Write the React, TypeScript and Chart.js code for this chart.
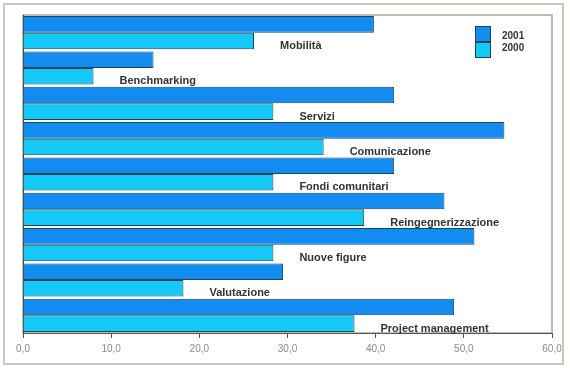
import React, { useEffect, useRef } from "react";
import { Chart, registerables } from "chart.js";

Chart.register(...registerables);

const categories = [
  "Mobilità",
  "Benchmarking",
  "Servizi",
  "Comunicazione",
  "Fondi comunitari",
  "Reingegnerizzazione",
  "Nuove figure",
  "Valutazione",
  "Project management",
];
const series2001 = [39.8, 14.8, 42.1, 54.6, 42.1, 47.8, 51.2, 29.5, 48.9];
const series2000 = [26.2, 8.0, 28.4, 34.1, 28.4, 38.7, 28.4, 18.2, 37.6];
const seriesNames = ["2001", "2000"];
const xTicks = [0, 10, 20, 30, 40, 50, 60];

const COLOR_2001 = "#128cf0";
const COLOR_2000 = "#14c8f8";
const BORDER = "#1a4654";

const framePlugin = {
  id: "framePlugin",
  beforeDraw(chart: any) {
    const { ctx, chartArea } = chart;
    ctx.save();
    ctx.fillStyle = "#ffffff";
    ctx.fillRect(0, 0, chart.width, chart.height);
    // outer frame
    ctx.strokeStyle = "#c8c8bc";
    ctx.lineWidth = 2;
    ctx.strokeRect(4, 4, 559, 360);
    // plot area frame
    ctx.strokeStyle = "#a8a89c";
    ctx.lineWidth = 1.5;
    ctx.strokeRect(chartArea.left, chartArea.top, chartArea.right - chartArea.left, chartArea.bottom - chartArea.top);
    ctx.restore();
  },
  afterDatasetsDraw(chart: any) {
    const { ctx, chartArea } = chart;
    const xs = chart.scales.x;
    const meta = chart.getDatasetMeta(1);
    ctx.save();
    ctx.font = "bold 11px 'Liberation Sans', Arial, sans-serif";
    ctx.fillStyle = "#333333";
    ctx.textBaseline = "middle";
    ctx.textAlign = "left";
    categories.forEach((name, i) => {
      const bar = meta.data[i];
      const x = xs.getPixelForValue(series2000[i]) + 26;
      const y = bar.y + 5;
      ctx.fillText(name, x, y);
    });
    // legend
    const lx = chartArea.right - 77;
    const ly = chartArea.top + 11;
    const sw = 16;
    const sh = 16;
    const colors = [COLOR_2001, COLOR_2000];
    colors.forEach((c, i) => {
      ctx.fillStyle = c;
      ctx.fillRect(lx, ly + i * sh, sw, sh);
      ctx.strokeStyle = BORDER;
      ctx.lineWidth = 1;
      ctx.strokeRect(lx + 0.5, ly + i * sh + 0.5, sw - 1, sh - 1);
    });
    ctx.font = "bold 10px 'Liberation Sans', Arial, sans-serif";
    ctx.fillStyle = "#333333";
    seriesNames.forEach((n, i) => {
      ctx.fillText(n, lx + 27, ly + i * 12 + 10);
    });
    ctx.restore();
  },
};

export default function App() {
  const ref = useRef<HTMLCanvasElement>(null);
  useEffect(() => {
    const canvas = ref.current!;
    const chart = new Chart(canvas, {
      type: "bar",
      data: {
        labels: categories,
        datasets: [
          {
            label: seriesNames[0],
            data: series2001,
            backgroundColor: COLOR_2001,
            borderColor: BORDER,
            borderWidth: 1,
            barPercentage: 1,
            categoryPercentage: 0.94,
          },
          {
            label: seriesNames[1],
            data: series2000,
            backgroundColor: COLOR_2000,
            borderColor: BORDER,
            borderWidth: 1,
            barPercentage: 1,
            categoryPercentage: 0.94,
          },
        ],
      },
      options: {
        indexAxis: "y",
        animation: false,
        responsive: false,
        maintainAspectRatio: false,
        layout: { padding: { left: 23, right: 18, top: 15, bottom: 0 } },
        plugins: {
          legend: { display: false },
          tooltip: { enabled: false },
        },
        scales: {
          x: {
            min: 0,
            max: 60,
            afterBuildTicks: (scale: any) => {
              scale.ticks = xTicks.map((v) => ({ value: v }));
            },
            afterFit: (scale: any) => {
              scale.height = 35;
            },
            ticks: {
              callback: (v: any) => Number(v).toFixed(1).replace(".", ","),
              color: "#8a8a8a",
              font: { size: 10, family: "'Liberation Sans', Arial, sans-serif" },
              padding: 5,
              maxRotation: 0,
            },
            grid: {
              display: true,
              drawOnChartArea: false,
              drawTicks: true,
              tickLength: 5,
              color: "#555555",
            },
            border: { display: true, color: "#555555", width: 1 },
          },
          y: {
            display: true,
            afterFit: (scale: any) => {
              scale.width = 0;
            },
            ticks: { display: false },
            grid: { display: false, drawTicks: false },
            border: { display: true, color: "#444444", width: 1 },
          },
        },
      },
      plugins: [framePlugin],
    });
    return () => chart.destroy();
  }, []);
  return (
    <div style={{ position: "fixed", left: 0, top: 0, width: 570, height: 368, background: "#fff" }}>
      <canvas ref={ref} width={570} height={368} style={{ width: 570, height: 368, display: "block" }} />
    </div>
  );
}
